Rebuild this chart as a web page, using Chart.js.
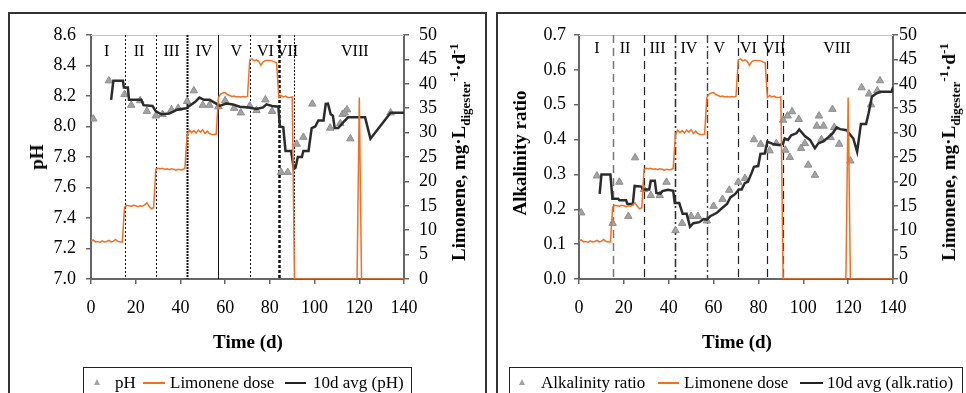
<!DOCTYPE html>
<html><head><meta charset="utf-8">
<script src="https://cdn.jsdelivr.net/npm/chart.js@4/dist/chart.umd.min.js"></script>
<style>
html,body{margin:0;padding:0;background:#fff;width:966px;height:393px;overflow:hidden;position:relative;font-family:"Liberation Serif","Times New Roman",serif;}
canvas{position:absolute;top:0;}
.panel{position:absolute;border:2px solid #333;box-sizing:border-box;}
.lg{position:absolute;border:1px solid #222;box-sizing:border-box;}
.t{position:absolute;font-size:17px;line-height:20px;white-space:nowrap;color:#000;}
.ln{position:absolute;height:2px;}
.tri{position:absolute;width:0;height:0;border-left:3.5px solid transparent;border-right:3.5px solid transparent;border-bottom:6px solid #a3a3a3;}
.ttl{position:absolute;font-weight:bold;font-size:19px;white-space:nowrap;transform:translate(-50%,-50%);line-height:22px;}
.rot{transform:translate(-50%,-50%) rotate(-90deg);}
sub,sup{font-size:13px;line-height:0;}
</style>
</head><body>
<div class="panel" style="left:8px;top:12px;width:479px;height:400px;"></div>
<div class="panel" style="left:496px;top:12px;width:480px;height:400px;"></div>
<canvas id="c1" width="490" height="393" style="left:0"></canvas>
<canvas id="c2" width="476" height="393" style="left:490px"></canvas>

<div class="ttl rot" style="left:37px;top:157px;">pH</div>
<div class="ttl" style="left:248px;top:342px;">Time (d)</div>
<div class="ttl rot" style="left:459px;top:152px;">Limonene, mg·L<sub>digester</sub><sup>-1</sup>·d<sup>-1</sup></div>

<div class="ttl rot" style="left:520px;top:153px;">Alkalinity ratio</div>
<div class="ttl" style="left:737px;top:342px;">Time (d)</div>
<div class="ttl rot" style="left:949px;top:152px;">Limonene, mg·L<sub>digester</sub><sup>-1</sup>·d<sup>-1</sup></div>

<div class="lg" style="left:83px;top:367px;width:329px;height:40px;"></div>
<div class="tri" style="left:94px;top:379px;"></div>
<div class="t" style="left:115px;top:373px;">pH</div>
<div class="ln" style="left:143px;top:382px;width:22px;background:#F37021;"></div>
<div class="t" style="left:170px;top:373px;">Limonene dose</div>
<div class="ln" style="left:285px;top:382px;width:21px;background:#222;"></div>
<div class="t" style="left:313px;top:373px;">10d avg (pH)</div>

<div class="lg" style="left:509px;top:367px;width:454px;height:40px;"></div>
<div class="tri" style="left:519px;top:379px;"></div>
<div class="t" style="left:541px;top:373px;">Alkalinity ratio</div>
<div class="ln" style="left:658px;top:382px;width:21px;background:#F37021;"></div>
<div class="t" style="left:684px;top:373px;">Limonene dose</div>
<div class="ln" style="left:800px;top:382px;width:23px;background:#222;"></div>
<div class="t" style="left:827px;top:373px;">10d avg (alk.ratio)</div>

<script>
// ---------------- data ----------------
const doseDays = [0,1,2,3,4,5,6,7,8,9,10,11,12,13,14,
  15,16,17,18,19,20,21,22,23,24,25,26,27,28,
  29,30,31,32,33,34,35,36,37,38,39,40,41,42,
  43,44,45,46,47,48,49,50,51,52,53,54,55,56,
  57,58,59,60,61,62,63,64,65,66,67,68,69,70,
  71,72,73,74,75,76,77,78,79,80,81,82,83,
  84,85,86,87,88,89,90,
  91,119,120,121,140];
const doseValues = [7.8,8.0,7.6,7.7,7.5,7.8,7.6,7.7,7.9,7.6,7.7,8.1,7.7,7.6,7.6,
  14.7,15.1,15.0,14.9,15.1,15.0,14.8,15.0,14.9,15.2,15.6,14.9,14.4,14.6,
  22.5,22.7,22.6,22.7,22.5,22.6,22.4,22.6,22.5,22.3,22.5,22.4,22.4,22.7,
  29.6,30.5,30.0,30.4,29.9,30.5,30.1,30.6,29.8,30.3,29.8,29.6,29.6,29.7,
  37.2,37.9,38.1,38.2,37.8,37.6,37.4,37.5,37.3,37.4,37.3,37.4,37.3,37.4,
  44.9,45.1,44.7,44.9,44.6,43.8,44.5,44.8,44.8,44.8,44.7,44.5,44.3,
  37.2,37.6,37.3,37.5,37.2,37.2,37.3,
  0,0,37.2,0,0];

const phDays = [1,8,15,18,22,25,29,32,36,39,43,46,50,53,57,60,64,67,71,74,78,81,85,88,92,95,99,107,111.5,112.5,113.5,114.5,116,134];
const phValues = [8.05,8.30,8.21,8.14,8.17,8.10,8.07,8.08,8.11,8.12,8.165,8.235,8.14,8.14,8.13,8.17,8.12,8.09,8.135,8.105,8.175,8.10,7.70,7.70,7.885,7.93,8.148,7.99,8.02,8.08,8.09,8.11,7.92,8.09];

const phAvgDays = [9,10,14.3,14.7,16.5,17,22.5,23.5,27.5,29,31.5,35,38.5,42.5,44,46.5,48.5,50.5,53,56,57.5,60.5,63.5,66.5,70.5,74,77,78.5,81,83.8,84.5,86,87,89.5,90.7,91.5,92.5,94.3,95,97.3,98.7,100.3,101.7,104,105,106,107.2,108.2,109,110.6,113,115,116,122.6,125,134,140];
const phAvgValues = [8.175,8.30,8.30,8.255,8.255,8.175,8.175,8.14,8.135,8.10,8.08,8.085,8.11,8.12,8.135,8.16,8.19,8.175,8.175,8.15,8.135,8.15,8.145,8.13,8.125,8.115,8.125,8.145,8.135,8.13,8.0,7.995,7.84,7.84,7.72,7.73,7.80,7.80,7.84,7.84,7.99,8.0,8.04,8.04,8.148,8.15,8.08,8.07,7.99,7.99,8.03,8.06,8.06,8.06,7.92,8.09,8.09];

const alkDays = [1,8,15,18,22,25,29,32,36,39,43,46,50,53,57,60,64,67,71,74,78,81,85,88,91,92,93,94,95,98,99,100.7,102.2,105.2,106,107,108.1,109,112.2,113,113.8,116,121,126,129.3,130.2,133,134.2];
const alkValues = [0.19,0.296,0.16,0.278,0.18,0.348,0.257,0.24,0.24,0.278,0.139,0.16,0.18,0.18,0.167,0.209,0.229,0.255,0.278,0.289,0.40,0.387,0.368,0.389,0.456,0.37,0.468,0.349,0.48,0.458,0.375,0.389,0.327,0.298,0.439,0.468,0.40,0.439,0.406,0.487,0.435,0.387,0.339,0.549,0.531,0.50,0.54,0.569];

const alkAvgDays = [9.2,10,14,14.9,17.5,18,21,21.6,24,24.8,27.8,28.6,31.3,32,33.8,34.5,36.3,37.2,39.7,42,42.7,44.7,46.2,48,49.5,51,53.7,55.5,57,58.5,61.5,63.7,66,67.5,69.7,71.2,72.5,73.9,75.3,76.9,78,79.9,80.9,82.8,84,86.6,89.5,91,91.7,93.2,94.6,96.9,98.2,100.7,103,105.2,106.7,108.9,111.2,113.1,114.9,116.4,119.4,120.1,122.3,124,125.7,128,129.1,130.6,132.5,134.3,139.4,140];
const alkAvgValues = [0.244,0.30,0.30,0.23,0.23,0.226,0.226,0.215,0.215,0.267,0.265,0.257,0.257,0.282,0.282,0.247,0.245,0.252,0.256,0.253,0.218,0.218,0.187,0.187,0.150,0.16,0.163,0.172,0.17,0.18,0.19,0.203,0.215,0.234,0.244,0.257,0.257,0.275,0.279,0.303,0.322,0.324,0.359,0.36,0.394,0.387,0.384,0.389,0.403,0.399,0.412,0.418,0.429,0.41,0.399,0.375,0.389,0.395,0.407,0.418,0.435,0.43,0.427,0.42,0.403,0.365,0.445,0.445,0.475,0.523,0.532,0.537,0.537,0.55];

const phaseBounds = [15,29,43,57,71,84,91];
const phaseNames = ['I','II','III','IV','V','VI','VII','VIII'];
const phaseLabelDaysL = [7,21.5,36,50.5,65,78,87.7,118];
const phaseLabelDaysR = [8,20.5,35,49,62.5,75.5,87,115];
const xTicks = {min:0,max:140,step:20};

// ---------------- helpers ----------------
const pts = (xs, ys) => xs.map((d,i)=>({x:d,y:ys[i]}));
const ORANGE = '#F37021';
const FONT = '"Liberation Serif","Times New Roman",serif';
Chart.defaults.font.family = FONT;
Chart.defaults.color = '#000';

function phasePlugin(styles, labelDays, labelOffset){
  return {
    id:'phases',
    beforeDatasetsDraw(chart){
      const {ctx, chartArea:a, scales:{x}} = chart;
      ctx.save();
      ctx.strokeStyle='#c4c4c4'; ctx.lineWidth=1; ctx.setLineDash([]);
      ctx.beginPath(); ctx.moveTo(a.left,a.top+0.5); ctx.lineTo(a.right,a.top+0.5); ctx.stroke();
      phaseBounds.forEach((d,i)=>{
        const st = styles[i];
        const px = Math.round(x.getPixelForValue(d))+0.5;
        ctx.beginPath(); ctx.setLineDash(st.dash); ctx.lineWidth=st.w; ctx.strokeStyle=st.c;
        ctx.moveTo(px,a.top); ctx.lineTo(px,a.bottom); ctx.stroke();
      });
      ctx.setLineDash([]);
      ctx.font='16px '+FONT; ctx.fillStyle='#000'; ctx.textAlign='center'; ctx.textBaseline='middle';
      phaseNames.forEach((n,i)=>ctx.fillText(n, x.getPixelForValue(labelDays[i]), a.top+labelOffset));
      ctx.restore();
    }
  };
}

function axisCommon(extra){
  return Object.assign({
    grid:{display:true, drawOnChartArea:false, drawTicks:true, tickLength:5, color:'#666', lineWidth:1.5},
    border:{display:true, color:'#666', width:2},
  }, extra);
}

function makeChart(id, cfg){
  return new Chart(document.getElementById(id), {
    type:'line',
    data:{datasets:[
      {label:'Limonene dose', data:pts(doseDays,doseValues), yAxisID:'y2', borderColor:ORANGE, borderWidth:1.5, pointRadius:0, tension:0, fill:false},
      {label:cfg.avgLabel, data:pts(cfg.avgDays,cfg.avgVals), yAxisID:'y', borderColor:'#2b2b2b', borderWidth:2.5, pointRadius:0, tension:0, fill:false},
      {label:cfg.ptLabel, data:pts(cfg.ptDays,cfg.ptVals), yAxisID:'y', showLine:false, pointStyle:'triangle', pointRadius:4.3, pointBackgroundColor:'#a3a3a3', pointBorderColor:'#8e8e8e', pointBorderWidth:1, borderColor:'#a3a3a3'}
    ]},
    options:{
      responsive:false, animation:false, devicePixelRatio:1,
      layout:{padding:{top:35,left:0,right:0,bottom:0}},
      plugins:{legend:{display:false}, tooltip:{enabled:false}, title:{display:false}},
      scales:{
        x: axisCommon({type:'linear', position:'bottom', min:xTicks.min, max:xTicks.max,
          ticks:{stepSize:xTicks.step, autoSkip:false, font:{size:18, family:FONT}, color:'#000', padding:13, maxRotation:0},
          afterFit:s=>{s.height=393-279;}}),
        y: axisCommon({type:'linear', position:'left', min:cfg.yMin, max:cfg.yMax,
          ticks:{stepSize:cfg.yStep, autoSkip:false, font:{size:18, family:FONT}, color:'#000', padding:cfg.yPad, callback:v=>Number(v).toFixed(1)},
          afterFit:s=>{s.width=cfg.leftW;}}),
        y2: axisCommon({type:'linear', position:'right', min:0, max:50,
          ticks:{stepSize:5, autoSkip:false, font:{size:18, family:FONT}, color:'#000', padding:cfg.y2Pad},
          afterFit:s=>{s.width=cfg.rightW;}})
      }
    },
    plugins:[phasePlugin(cfg.styles, cfg.labelDays, cfg.labelOffset)]
  });
}

const dot = {dash:[2,2], w:1, c:'#111'};
const stylesL = [dot, dot, {dash:[2,1], w:2, c:'#111'}, {dash:[], w:1, c:'#111'}, dot, {dash:[3,2], w:2.5, c:'#111'}, {dash:[2,1.5], w:1, c:'#111'}];
const dsh = {dash:[8,5], w:1.2, c:'#222'};
const stylesR = [{dash:[8,5], w:1.5, c:'#777'}, dsh, {dash:[8,3,2,3], w:1.6, c:'#333'}, {dash:[8,3,2,3], w:1.4, c:'#444'}, dsh, dsh, dsh];

makeChart('c1', {avgLabel:'10d avg (pH)', avgDays:phAvgDays, avgVals:phAvgValues, ptLabel:'pH', ptDays:phDays, ptVals:phValues,
  yMin:7.0, yMax:8.6, yStep:0.2, yPad:10, y2Pad:10, leftW:91, rightW:490-404, styles:stylesL, labelDays:phaseLabelDaysL, labelOffset:17});
makeChart('c2', {avgLabel:'10d avg (alk.ratio)', avgDays:alkAvgDays, avgVals:alkAvgValues, ptLabel:'Alkalinity ratio', ptDays:alkDays, ptVals:alkValues,
  yMin:0, yMax:0.7, yStep:0.1, yPad:8, y2Pad:1, leftW:579-490, rightW:476-403, styles:stylesR, labelDays:phaseLabelDaysR, labelOffset:14});
</script>
</body></html>
